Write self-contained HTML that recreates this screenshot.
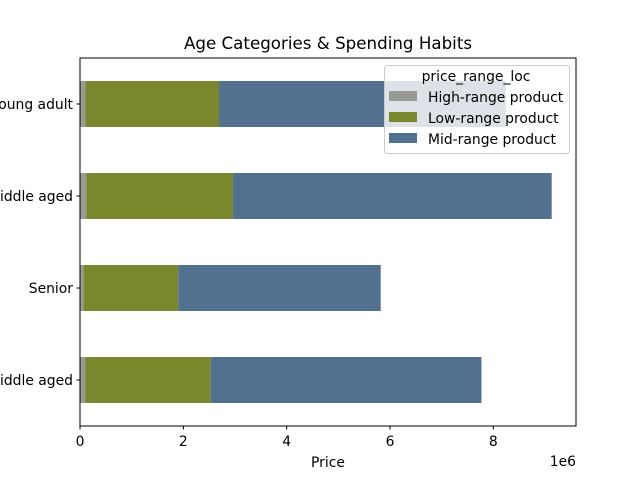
<!DOCTYPE html>
<html><head><meta charset="utf-8"><style>
html,body{margin:0;padding:0;background:#fff;}
text{font-family:"DejaVu Sans","Liberation Sans",sans-serif;}
</style></head><body>
<svg id="chart" width="640" height="480" xmlns="http://www.w3.org/2000/svg">
<text x="328" y="49" font-size="16.7" text-anchor="middle">Age Categories &amp; Spending Habits</text>
<g id="bars"></g>
<g id="axes"></g>
<g>
<rect x="384.5" y="65.5" width="185" height="88" rx="3" fill="#fff" fill-opacity="0.8" stroke="#ccc"/>
<text x="476" y="81" font-size="13.9" text-anchor="middle">price_range_loc</text>
<rect x="389" y="91" width="28" height="10" fill="#999a94"/>
<text x="428" y="102" font-size="13.9">High-range product</text>
<rect x="389" y="112" width="28" height="10" fill="#7a872c"/>
<text x="428" y="123" font-size="13.9">Low-range product</text>
<rect x="389" y="133" width="28" height="10" fill="#52718e"/>
<text x="428" y="144" font-size="13.9">Mid-range product</text>
</g>
</svg>
<script>
const categories = ["Young adult","Middle aged","Senior","Middle aged"];
const highVals = [0.1e6, 0.12e6, 0.07e6, 0.1e6];
const lowVals = [2.59e6, 2.84e6, 1.83e6, 2.43e6];
const midVals = [5.55e6, 6.17e6, 3.92e6, 5.24e6];
const xTicks = [0, 2e6, 4e6, 6e6, 8e6];
const xTickLabels = ["0","2","4","6","8"];
const NS="http://www.w3.org/2000/svg";
const L=80,R=576,T=58,B=426,XMAX=9.6e6;
const xs=v=>L+v/XMAX*(R-L);
const slot=(B-T)/categories.length;
const yc=i=>T+slot*(i+0.5);
const bh=slot*0.5;
function mk(tag,attrs,parent){const e=document.createElementNS(NS,tag);for(const k in attrs)e.setAttribute(k,attrs[k]);parent.appendChild(e);return e;}
const bars=document.getElementById('bars'),axes=document.getElementById('axes');
const series=[[highVals,"#999a94","high"],[lowVals,"#7a872c","low"],[midVals,"#52718e","mid"]];
categories.forEach((c,i)=>{
  let acc=0;
  series.forEach(([arr,col,nm])=>{
    const r=mk('rect',{x:xs(acc),y:yc(i)-bh/2,width:xs(acc+arr[i])-xs(acc),height:bh,fill:col},bars);
    
    
    acc+=arr[i];
  });
  const t=mk('line',{x1:L-3.5,x2:L,y1:yc(i),y2:yc(i),stroke:'#000'},axes);
  
  
  const lb=mk('text',{x:L-7,y:yc(i)+5,'font-size':13.9,'text-anchor':'end'},axes);
  lb.textContent=c;
  
  
});
const frame=mk('rect',{x:L,y:T,width:R-L,height:B-T,fill:'none',stroke:'#000','stroke-width':1},axes);


xTicks.forEach((v,i)=>{
  const t=mk('line',{x1:xs(v),x2:xs(v),y1:B,y2:B+3.5,stroke:'#000'},axes);
  
  
  const lb=mk('text',{x:xs(v),y:B+20,'font-size':13.9,'text-anchor':'middle'},axes);
  lb.textContent=xTickLabels[i];
  
  
});
const xt=mk('text',{x:328,y:467,'font-size':13.9,'text-anchor':'middle'},axes);
xt.textContent='Price';


const ex=mk('text',{x:576,y:466,'font-size':13.9,'text-anchor':'end'},axes);
ex.textContent='1e6';


</script>
</body></html>
